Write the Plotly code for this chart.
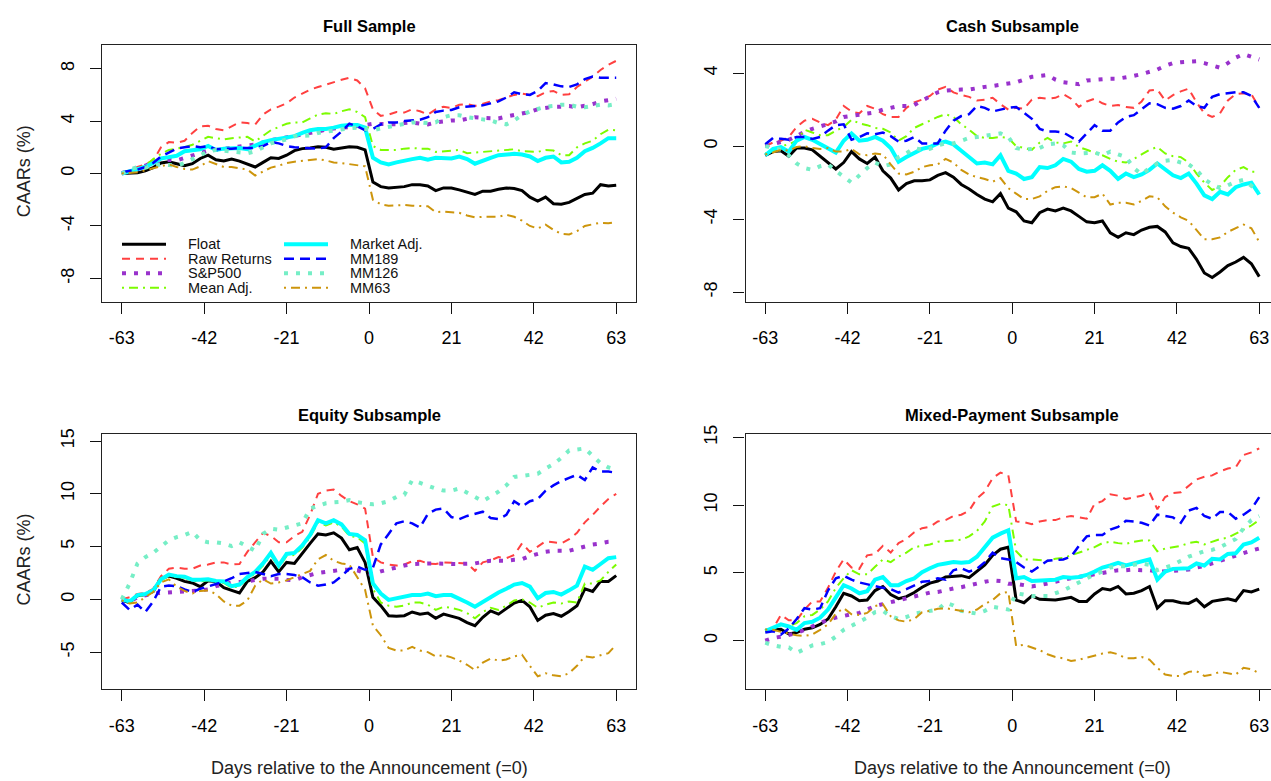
import plotly.graph_objects as go

W, H = 1271, 781
FONT = "Liberation Sans, Arial, Helvetica, sans-serif"

# ---------------- data ----------------
days = list(range(-63, 64, 2))
series_names = ["Float", "Raw Returns", "S&P500", "Mean Adj.",
                "Market Adj.", "MM189", "MM126", "MM63"]
panel_titles = ["Full Sample", "Cash Subsample", "Equity Subsample", "Mixed-Payment Subsample"]
x_ticks = [-63, -42, -21, 0, 21, 42, 63]
full_y_ticks = [-8, -4, 0, 4, 8]
cash_y_ticks = [-8, -4, 0, 4]
equity_y_ticks = [-5, 0, 5, 10, 15]
mixed_y_ticks = [0, 5, 10, 15]
x_title = "Days relative to the Announcement (=0)"
y_title = "CAARs (%)"

# Full sample
full_float = [0, 0.0, 0.05, 0.2, 0.45, 0.8, 0.9, 0.75,
              0.6, 0.75, 1.15, 1.4, 1.05, 0.95, 1.1, 0.95,
              0.75, 0.5, 0.85, 1.2, 1.15, 1.4, 1.75, 1.9,
              1.95, 2.05, 2.0, 1.85, 1.95, 2.05, 2.0, 1.8,
              -0.65, -1.0, -1.1, -1.05, -1.0, -0.85, -0.85, -0.95,
              -1.3, -1.1, -1.1, -1.25, -1.45, -1.6, -1.35, -1.35,
              -1.2, -1.1, -1.15, -1.3, -1.8, -2.1, -1.8, -2.3,
              -2.35, -2.2, -1.9, -1.6, -1.5, -0.85, -0.95, -0.9]
full_raw = [0, 0.2, 0.5, 0.7, 1.0, 2.0, 2.4, 2.35,
            2.5, 3.1, 3.6, 3.65, 3.4, 3.3, 3.6, 3.9,
            3.85, 3.75, 4.5, 4.9, 5.1, 5.35, 5.8, 6.1,
            6.4, 6.6, 6.8, 6.95, 7.15, 7.3, 7.1, 6.5,
            4.9, 4.4, 4.5, 4.7, 4.65, 4.9, 4.75, 4.5,
            4.9, 5.1, 5.0, 5.25, 5.3, 5.15, 5.35, 5.5,
            5.6, 5.8, 6.0, 6.1, 6.0, 5.9, 6.2, 6.3,
            6.0, 6.05, 6.6, 7.0, 7.4, 7.9, 8.3, 8.6]
full_sp500 = [0, 0.2, 0.4, 0.6, 0.9, 1.0, 1.05, 1.0,
              1.2, 1.4, 1.6, 1.75, 1.8, 1.9, 2.0, 2.1,
              2.15, 2.2, 2.4, 2.55, 2.65, 2.75, 2.85, 2.95,
              3.1, 3.2, 3.35, 3.45, 3.5, 3.55, 3.6, 3.7,
              3.8, 3.8, 3.8, 3.75, 3.85, 3.9, 3.8, 3.75,
              3.9, 4.0, 4.05, 4.05, 4.2, 4.3, 4.25, 4.2,
              4.2, 4.35, 4.45, 4.6, 4.7, 4.9, 5.0, 5.1,
              5.1, 5.15, 5.05, 5.15, 5.3, 5.5, 5.6, 5.7]
full_mean = [0, 0.15, 0.4, 0.6, 1.1, 1.5, 1.8, 1.9,
             2.0, 2.2, 2.5, 2.8, 2.7, 2.6, 2.7, 2.75,
             2.8, 2.45, 2.9, 3.3, 3.55, 3.8, 3.9, 3.9,
             4.2, 4.5, 4.6, 4.55, 4.75, 4.9, 4.7, 4.3,
             2.1, 1.8, 1.8, 1.8, 1.9, 1.95, 1.9, 1.9,
             1.65, 1.7, 1.75, 1.8, 1.55, 1.6, 1.7, 1.75,
             1.8, 1.85, 1.85, 1.7, 1.65, 1.65, 1.8, 1.75,
             1.4, 1.4, 2.0, 2.3, 2.5, 3.0, 3.35, 3.3]
full_market = [0, 0.15, 0.3, 0.5, 0.8, 1.15, 1.25, 1.35,
               1.7, 1.8, 1.85, 2.1, 1.8, 1.9, 1.95, 1.95,
               1.85, 2.15, 2.4, 2.55, 2.65, 2.7, 2.85, 3.1,
               3.3, 3.4, 3.4, 3.5, 3.65, 3.7, 3.7, 3.5,
               1.2, 0.85, 0.7, 0.85, 1.0, 1.1, 1.2, 1.05,
               1.2, 1.2, 1.15, 1.3, 1.1, 0.75, 1.0, 1.2,
               1.4, 1.45, 1.5, 1.45, 1.3, 0.95, 1.2, 1.3,
               0.85, 0.9, 1.2, 1.7, 1.95, 2.3, 2.7, 2.7]
full_mm189 = [0.1, 0.2, 0.3, 0.5, 0.8, 1.3, 1.6, 1.9,
              2.0, 2.1, 2.0, 2.1, 1.85, 1.85, 1.9, 1.95,
              1.95, 1.95, 2.1, 2.4, 2.3, 2.1, 2.0, 1.95,
              1.9, 1.9, 2.0, 2.7, 3.2, 3.8, 3.6, 3.3,
              3.4, 3.75, 3.9, 3.9, 4.0, 4.05, 4.1, 4.3,
              4.7, 4.8, 4.85, 5.05, 5.1, 5.15, 5.2, 5.35,
              5.5, 5.8, 6.2, 6.05, 6.0, 6.3, 6.9, 6.8,
              6.65, 6.6, 6.8, 7.2, 7.4, 7.3, 7.3, 7.3]
full_mm126 = [0, 0.3, 0.5, 0.45, 0.6, 0.7, 0.65, 0.6,
              0.8, 1.1, 1.4, 1.7, 1.8, 1.75, 1.7, 1.6,
              1.55, 1.7, 2.0, 2.3, 2.45, 2.6, 2.85, 2.9,
              2.9, 3.1, 3.2, 3.3, 3.35, 3.45, 3.5, 3.4,
              3.3, 3.45, 3.55, 3.65, 3.75, 3.9, 3.9, 3.85,
              3.9, 4.3, 4.45, 4.45, 4.3, 4.2, 4.15, 4.05,
              3.85, 3.75, 4.05, 4.45, 4.75, 4.95, 5.1, 5.15,
              5.25, 5.25, 5.1, 5.05, 5.15, 5.25, 5.2, 5.3]
full_mm63 = [0, 0.05, 0.1, 0.25, 0.4, 0.6, 0.7, 0.5,
             0.35, 0.3, 0.55, 0.95, 0.7, 0.5, 0.5, 0.4,
             0.3, -0.15, 0.15, 0.45, 0.6, 0.8, 0.9, 0.95,
             1.05, 1.1, 1.0, 0.85, 0.8, 0.7, 0.65, 0.55,
             -2.0, -2.35, -2.45, -2.4, -2.4, -2.45, -2.45, -2.5,
             -2.95, -2.9, -2.95, -3.0, -3.2, -3.35, -3.3, -3.3,
             -3.3, -3.15, -3.3, -3.6, -4.0, -4.2, -3.9, -4.3,
             -4.6, -4.65, -4.4, -4.0, -3.9, -3.75, -3.8, -3.7]

# Cash subsample
cash_float = [-0.5, -0.3, -0.25, -0.55, -0.1, -0.1, -0.2, -0.55,
              -0.9, -1.25, -0.9, -0.3, -0.7, -0.95, -0.6, -1.35,
              -1.75, -2.4, -2.05, -1.9, -1.9, -1.85, -1.6, -1.45,
              -1.7, -2.1, -2.35, -2.65, -2.9, -3.05, -2.6, -3.4,
              -3.6, -4.1, -4.2, -3.65, -3.45, -3.55, -3.4, -3.55,
              -3.85, -4.15, -4.2, -4.1, -4.75, -5.0, -4.75, -4.85,
              -4.6, -4.45, -4.4, -4.7, -5.3, -5.5, -5.6, -6.2,
              -6.95, -7.2, -6.9, -6.55, -6.35, -6.1, -6.45, -7.15]
cash_raw = [0, 0.2, 0.3, 0.5, 1.05, 1.4, 1.5, 1.3,
            1.15, 1.45, 2.2, 1.9, 1.8, 2.2, 2.05, 1.75,
            1.6, 1.6, 2.1, 2.4, 2.55, 2.75, 3.1, 3.25,
            2.95, 2.8, 2.7, 2.5, 2.55, 2.65, 2.3, 2.0,
            2.1, 2.05, 2.55, 2.65, 2.6, 2.65, 2.85, 2.6,
            2.15, 2.45, 2.6, 2.35, 2.2, 2.25, 2.15, 2.1,
            2.45, 3.05, 3.1, 2.5, 2.8, 3.0, 3.15, 2.4,
            1.8, 1.6, 1.8, 2.5, 2.85, 2.9, 2.85, 2.1]
cash_sp500 = [0.0, 0.1, 0.2, 0.35, 0.55, 0.8, 0.95, 1.1,
              1.2, 1.35, 1.6, 1.65, 1.75, 1.8, 1.85, 2.0,
              2.1, 2.2, 2.2, 2.25, 2.5, 2.75, 2.95, 3.05,
              3.1, 3.1, 3.1, 3.2, 3.25, 3.3, 3.35, 3.4,
              3.5, 3.65, 3.8, 3.85, 3.9, 3.65, 3.5, 3.45,
              3.4, 3.6, 3.65, 3.7, 3.7, 3.7, 3.75, 3.85,
              3.95, 4.05, 4.2, 4.4, 4.55, 4.6, 4.6, 4.65,
              4.55, 4.4, 4.3, 4.55, 4.85, 5.05, 4.9, 4.75]
cash_mean = [-0.4, -0.3, 0.0, 0.1, 0.3, 0.9, 0.75, 0.6,
             0.6, 0.85, 1.05, 1.45, 1.25, 1.15, 1.0, 0.95,
             0.75, 0.3, 0.55, 1.0, 1.2, 1.4, 1.6, 1.75,
             1.6, 1.2, 0.9, 0.55, 0.45, 0.45, 0.5, 0.45,
             0.0, -0.1, -0.2, 0.2, 0.45, 0.2, 0.15, 0.25,
             -0.05, -0.2, -0.35, -0.5, -0.7, -0.85, -0.9, -0.7,
             -0.45, -0.2, -0.05, -0.4, -0.55, -0.6, -0.9, -1.5,
             -2.0, -2.4, -2.2, -1.7, -1.3, -1.15, -1.4, -1.4]
cash_market = [-0.5, -0.15, -0.05, -0.3, 0.3, 0.5, 0.35, 0.1,
               -0.15, -0.35, 0.3, 0.7, 0.3, 0.35, 0.5, 0.3,
               -0.1, -0.85, -0.6, -0.35, -0.15, -0.05, 0.15, 0.25,
               0.1, -0.25, -0.6, -0.95, -0.9, -1.0, -0.5, -1.35,
               -1.5, -1.8, -1.7, -1.15, -1.2, -1.05, -0.7, -0.85,
               -1.25, -1.4, -1.35, -1.05, -1.35, -1.8, -1.5, -1.7,
               -1.55, -1.3, -0.95, -1.25, -1.6, -1.75, -1.5, -2.05,
               -2.7, -2.9, -2.5, -2.65, -2.25, -2.1, -2.0, -2.65]
cash_mm189 = [0.1, 0.45, 0.4, 0.35, 0.5, 0.5, 0.4, 0.5,
              0.85, 1.15, 1.2, 0.35, 0.5, 0.7, 0.65, 0.75,
              0.55, 0.25, 0.3, 0.5, 0.15, 0.15, 0.15, 0.85,
              1.4, 1.65, 1.75, 2.2, 2.1, 1.9, 2.0, 2.1,
              2.15, 1.8, 1.5, 0.95, 0.8, 0.8, 0.75, 0.5,
              0.25, 0.7, 1.15, 0.85, 0.85, 1.3, 1.6, 1.7,
              2.0, 2.35, 2.3, 2.1, 2.05, 2.2, 2.5, 2.2,
              2.1, 2.7, 2.85, 2.9, 2.95, 2.95, 2.75, 2.1]
cash_mm126 = [0.0, -0.1, -0.2, -0.5, -0.95, -1.2, -1.3, -1.1,
              -1.0, -1.35, -1.7, -2.0, -1.6, -1.2, -0.9, -1.1,
              -1.0, -0.6, -0.4, -0.1, -0.2, -0.15, 0.05, 0.15,
              0.15, 0.3, 0.45, 0.5, 0.55, 0.6, 0.7, 0.5,
              -0.1, -0.2, -0.15, -0.1, 0.1, 0.15, 0.05, -0.35,
              -0.4, -0.35, -0.35, -0.5, -0.3, -0.45, -0.6, -1.2,
              -1.55, -1.2, -0.95, -0.8, -0.75, -0.9, -1.0, -1.3,
              -1.8, -2.1, -2.3, -2.15, -1.95, -1.85, -2.15, -2.5]
cash_mm63 = [-0.45, -0.35, -0.2, -0.25, -0.05, 0.0, -0.1, -0.15,
             -0.1, -0.3, -0.3, -0.15, -0.45, -0.5, -0.4, -0.45,
             -1.0, -1.5, -1.55, -1.4, -1.15, -1.05, -1.0, -0.7,
             -0.9, -1.3, -1.55, -1.7, -1.8, -1.95, -1.75, -2.3,
             -2.6, -2.9, -2.9, -2.75, -2.45, -2.25, -2.2, -2.3,
             -2.55, -2.8, -2.8, -2.6, -3.2, -3.1, -3.1, -3.2,
             -3.0, -2.75, -2.8, -3.3, -3.65, -3.9, -4.1, -4.6,
             -5.1, -5.1, -5.0, -4.7, -4.5, -4.3, -4.5, -5.25]

# Equity subsample
equity_float = [-0.1, -0.3, 0.35, 0.45, 0.75, 2.0, 2.2, 2.0,
                1.7, 1.55, 1.2, 1.75, 1.7, 1.1, 0.85, 0.6,
                1.7, 2.05, 2.6, 3.6, 2.6, 3.5, 3.4, 4.4,
                5.3, 6.2, 6.1, 6.3, 5.8, 4.7, 4.9, 3.5,
                0.2, -0.6, -1.55, -1.6, -1.55, -1.2, -1.4, -1.3,
                -1.8, -1.4, -1.6, -1.8, -2.2, -2.5, -1.7, -1.1,
                -1.4, -0.9, -0.35, -0.1, -0.7, -2.0, -1.5, -1.35,
                -1.6, -1.15, -0.6, 1.0, 0.75, 1.7, 1.7, 2.25]
equity_raw = [0, 0.2, 0.5, 0.6, 1.0, 2.2, 2.9, 3.0,
              2.9, 2.9, 3.2, 3.3, 3.5, 3.5, 3.3, 3.35,
              4.5, 5.4, 6.3, 6.0, 5.4, 5.4, 6.0, 6.4,
              8.0, 10.0, 10.3, 10.4, 9.8, 9.3, 9.0, 8.6,
              4.0, 3.5, 3.3, 3.2, 3.3, 3.6, 3.65, 3.4,
              3.35, 3.5, 3.45, 3.4, 3.4, 2.7, 3.5, 3.7,
              4.0, 3.9, 4.2, 5.3, 4.5, 5.0, 5.5, 5.4,
              5.3, 5.7, 6.3, 7.3, 8.0, 8.8, 9.5, 10.0]
equity_sp500 = [0, -0.2, 0.2, 0.4, 0.55, 0.6, 0.65, 0.7,
                0.7, 0.75, 0.85, 0.95, 1.25, 1.4, 1.6, 1.65,
                1.7, 1.85, 1.95, 1.95, 1.95, 1.85, 1.8, 2.1,
                2.3, 2.5, 2.6, 2.7, 2.8, 2.8, 2.75, 2.5,
                2.4, 2.65, 2.85, 3.0, 3.2, 3.35, 3.4, 3.4,
                3.4, 3.35, 3.35, 3.35, 3.4, 3.4, 3.55, 3.65,
                3.65, 3.65, 3.75, 3.8, 4.1, 4.3, 4.5, 4.6,
                4.6, 4.6, 4.8, 5.05, 5.2, 5.3, 5.45, 5.5]
equity_mean = [-0.1, -0.3, 0.3, 0.4, 0.75, 1.8, 2.25, 2.1,
               2.05, 1.75, 1.7, 1.8, 1.65, 1.55, 1.1, 1.25,
               1.95, 2.45, 3.2, 4.2, 3.0, 4.1, 4.2, 4.9,
               5.9, 7.3, 7.0, 7.3, 6.9, 6.0, 5.9, 5.3,
               1.0, -0.3, -0.6, -0.7, -0.6, -0.3, -0.3, -0.5,
               -1.0, -0.7, -0.8, -1.0, -1.3, -1.8, -1.2, -0.8,
               -1.0, -0.6, -0.1, 0.0, -0.3, -0.8, -0.5, -0.3,
               -0.4, -0.2, -0.3, 1.5, 1.5, 1.8, 2.6, 3.3]
equity_market = [0, -0.2, 0.4, 0.5, 0.85, 1.9, 2.35, 2.2,
                 2.15, 1.85, 1.85, 1.9, 1.75, 1.7, 1.25, 1.4,
                 2.1, 2.6, 3.4, 4.4, 3.2, 4.3, 4.4, 5.1,
                 6.1, 7.5, 7.2, 7.5, 7.1, 6.2, 6.1, 5.6,
                 1.5, 0.55, -0.05, 0.1, 0.3, 0.4, 0.4, 0.55,
                 0.3, 0.4, 0.4, 0.1, -0.3, -0.7, -0.25, 0.3,
                 0.65, 1.0, 1.4, 1.55, 1.2, 0.1, 0.6, 0.7,
                 0.45, 0.85, 1.3, 3.1, 2.8, 3.35, 3.9, 4.0]
equity_mm189 = [-0.3, -1.0, -0.5, -1.2, -0.2, 1.2, 1.3, 1.25,
                0.95, 0.7, 1.0, 1.2, 1.45, 1.7, 2.0, 2.4,
                2.5, 2.6, 2.4, 2.2, 2.4, 2.4, 2.3, 2.1,
                1.6, 1.3, 1.4, 1.6, 2.2, 2.9, 3.1, 2.8,
                3.0, 5.2, 6.2, 7.2, 7.4, 7.2, 6.8, 8.1,
                8.5, 8.6, 7.8, 7.6, 7.9, 8.1, 8.3, 7.7,
                7.6, 8.0, 9.3, 8.8, 9.3, 9.5, 10.3, 10.8,
                11.2, 11.5, 11.8, 11.3, 12.5, 12.1, 12.1, 12.0]
equity_mm126 = [0, 1.5, 3.4, 4.0, 4.4, 5.05, 5.6, 5.9,
                6.1, 6.4, 5.6, 5.4, 5.4, 5.3, 5.05, 5.4,
                5.0, 4.6, 6.2, 6.7, 6.6, 6.8, 7.0, 7.2,
                8.6, 8.9, 9.1, 9.2, 9.25, 9.4, 9.2, 9.1,
                9.0, 9.1, 9.3, 9.7, 9.9, 11.3, 11.0, 10.8,
                10.5, 10.3, 10.3, 10.5, 10.1, 9.6, 9.3, 9.75,
                10.2, 10.8, 11.6, 11.7, 11.8, 11.9, 12.4, 12.8,
                13.4, 14.1, 14.2, 14.3, 13.6, 12.9, 12.5, 12.3]
equity_mm63 = [-0.1, -0.4, -0.3, 0.2, 0.7, 1.6, 1.9, 1.2,
               0.8, 0.55, 0.8, 0.85, 0.5, -0.2, -0.6, -0.6,
               -0.1, 1.3, 1.9, 1.5, 1.6, 1.8, 2.1, 2.4,
               2.7, 3.8, 4.2, 3.65, 3.4, 3.3, 2.1, 0.9,
               -2.5, -3.4, -4.6, -4.85, -4.85, -4.5, -4.85, -5.0,
               -5.4, -5.3, -5.5, -5.8, -6.2, -6.7, -6.0, -5.6,
               -5.8, -5.7, -5.4, -5.25, -6.3, -7.3, -7.0, -7.2,
               -7.3, -7.0, -6.3, -5.4, -5.5, -5.3, -5.1, -4.3]

# Mixed-payment subsample
mixed_float = [0.75, 0.8, 0.85, 0.5, 0.6, 0.85, 0.95, 1.2,
               1.6, 2.5, 3.5, 3.3, 2.95, 3.0, 3.7, 4.0,
               3.4, 3.1, 3.25, 3.55, 3.95, 4.25, 4.4, 4.7,
               4.75, 4.8, 4.65, 5.1, 5.6, 6.3, 6.75, 6.9,
               3.0, 2.8, 3.3, 3.05, 3.05, 3.0, 3.1, 3.2,
               2.9, 2.9, 3.45, 3.85, 3.75, 4.0, 3.45, 3.5,
               3.7, 4.0, 2.4, 2.95, 2.95, 2.8, 2.75, 3.05,
               2.5, 2.9, 3.0, 3.1, 2.95, 3.7, 3.6, 3.8]
mixed_raw = [0.8, 0.9, 1.9, 1.5, 1.5, 2.3, 2.9, 2.9,
             3.9, 5.1, 6.0, 5.4, 5.3, 6.3, 6.4, 7.0,
             6.5, 7.2, 7.5, 8.0, 8.3, 8.4, 8.8, 8.9,
             9.2, 9.3, 9.6, 10.5, 11.0, 12.0, 12.4, 12.2,
             8.8, 8.75, 8.6, 8.8, 8.9, 8.9, 9.1, 9.2,
             9.1, 9.0, 10.1, 10.3, 10.8, 10.7, 10.45, 10.6,
             10.7, 10.95, 9.7, 10.6, 10.9, 10.95, 11.4, 11.9,
             12.1, 12.2, 12.5, 12.7, 12.8, 13.7, 13.9, 14.2]
mixed_sp500 = [0.0, 0.2, 0.3, 0.45, 0.55, 0.8, 1.05, 1.3,
               1.55, 1.7, 1.85, 1.95, 2.05, 2.3, 2.55, 2.7,
               2.85, 3.0, 3.15, 3.3, 3.45, 3.55, 3.6, 3.75,
               3.85, 3.95, 4.1, 4.25, 4.35, 4.45, 4.4, 4.2,
               4.2, 4.1, 4.0, 4.1, 4.2, 4.35, 4.5, 4.6,
               4.7, 4.8, 4.9, 5.0, 5.1, 5.2, 5.2, 5.25,
               5.2, 5.2, 5.1, 5.1, 5.15, 5.2, 5.25, 5.4,
               5.5, 5.7, 5.9, 6.05, 6.25, 6.45, 6.65, 6.8]
mixed_mean = [0.8, 0.9, 1.2, 1.1, 1.3, 1.8, 1.9, 2.3,
              2.9, 3.9, 4.6, 5.2, 4.9, 4.9, 5.45, 6.0,
              5.8, 6.2, 6.5, 6.9, 7.0, 7.1, 7.3, 7.35,
              7.4, 7.45, 7.7, 8.1, 8.8, 9.9, 10.1, 10.0,
              6.6, 6.0, 6.0, 5.95, 5.9, 6.05, 6.1, 6.3,
              6.5, 6.7, 6.9, 7.2, 7.3, 7.2, 7.15, 7.3,
              7.4, 7.4, 6.6, 6.8, 6.9, 7.0, 7.2, 7.3,
              7.1, 7.3, 7.5, 7.6, 7.9, 8.2, 8.5, 8.9]
mixed_market = [0.7, 0.95, 1.2, 1.05, 0.8, 1.3, 1.4, 1.7,
                2.3, 3.2, 4.1, 3.85, 3.5, 3.65, 4.5, 4.7,
                4.1, 4.1, 4.4, 4.6, 5.05, 5.35, 5.6, 5.7,
                5.8, 5.75, 5.8, 6.2, 6.9, 7.6, 7.9, 8.15,
                4.6, 4.7, 4.4, 4.45, 4.5, 4.5, 4.7, 4.65,
                4.7, 4.85, 5.1, 5.4, 5.55, 5.75, 5.55, 5.7,
                5.8, 6.0, 4.5, 5.1, 5.3, 5.3, 5.35, 5.7,
                5.55, 6.05, 6.0, 6.4, 6.45, 7.1, 7.25, 7.6]
mixed_mm189 = [0.6, 0.7, 0.45, 0.9, 1.6, 2.4, 2.3, 2.4,
               3.7, 4.6, 4.8, 4.5, 4.3, 4.15, 4.0, 3.9,
               3.8, 3.55, 3.8, 4.1, 4.35, 4.4, 4.6, 4.5,
               5.2, 5.35, 5.1, 5.3, 5.8, 6.5, 6.1, 6.0,
               5.8, 5.4, 5.1, 5.5, 5.9, 5.95, 6.0, 6.2,
               7.0, 7.7, 7.8, 7.8, 8.2, 8.4, 8.85, 8.8,
               8.7, 8.5, 9.3, 9.2, 9.1, 8.7, 9.6, 9.8,
               9.2, 9.0, 9.5, 9.5, 9.0, 9.3, 9.7, 10.6]
mixed_mm126 = [-0.15, -0.35, -0.45, -0.5, -0.9, -0.6, -0.35, -0.25,
               -0.1, 0.3, 0.8, 1.1, 1.4, 1.7, 2.1, 2.2,
               1.8, 1.6, 1.75, 2.0, 2.1, 2.2, 2.3, 2.8,
               2.6, 2.2, 2.1, 2.0, 2.2, 2.5, 2.4, 2.3,
               3.5, 3.4, 3.3, 3.3, 3.3, 3.5, 3.7, 4.0,
               4.3, 4.6, 4.9, 5.1, 5.4, 5.5, 5.5, 5.6,
               5.7, 5.6, 5.2, 5.4, 5.6, 5.9, 6.2, 6.4,
               6.6, 6.7, 6.9, 7.2, 7.5, 8.3, 8.9, 9.2]
mixed_mm63 = [0.8, 0.8, 0.65, 0.5, 0.4, 0.35, 0.45, 0.8,
              1.2, 2.0, 2.4, 1.95, 1.9, 2.05, 2.55, 2.7,
              1.8, 1.5, 1.4, 1.6, 2.1, 2.2, 2.35, 2.4,
              2.3, 2.2, 2.1, 2.3, 2.7, 3.0, 3.5, 3.6,
              -0.4, -0.3, -0.5, -0.7, -1.0, -1.2, -1.3, -1.5,
              -1.4, -1.25, -1.05, -0.95, -0.85, -1.0, -1.3, -1.3,
              -1.2, -1.4, -2.0, -2.5, -2.6, -2.6, -2.3, -2.25,
              -2.6, -2.5, -2.3, -2.4, -2.5, -2.0, -2.1, -2.4]

# ---------------- styling ----------------
styles = {
    "Float":       dict(color="#000000", width=3.0, dash="solid"),
    "Raw Returns": dict(color="#FF4040", width=2.0, dash="8px,6px"),
    "S&P500":      dict(color="#9932CC", width=4.0, dash="4px,8px"),
    "Mean Adj.":   dict(color="#7CFC00", width=2.0, dash="2px,5px,9px,5px"),
    "Market Adj.": dict(color="#00FFFF", width=4.0, dash="solid"),
    "MM189":       dict(color="#0000FF", width=2.5, dash="10px,6px"),
    "MM126":       dict(color="#76EEC6", width=4.0, dash="4px,8px"),
    "MM63":        dict(color="#CD950C", width=2.0, dash="2px,5px,9px,5px"),
}

panels = [
    dict(series=[full_float, full_raw, full_sp500, full_mean, full_market, full_mm189, full_mm126, full_mm63],
         yticks=full_y_ticks, yrange=[-9.77, 9.8], box=(102, 636, 36.5, 296), xrange=[-68.04, 68.04],
         ylab=True, xlab=False, right=False),
    dict(series=[cash_float, cash_raw, cash_sp500, cash_mean, cash_market, cash_mm189, cash_mm126, cash_mm63],
         yticks=cash_y_ticks, yrange=[-8.52, 5.54], box=(745.5, 1271, 36.5, 296), xrange=[-68.04, 66.0],
         ylab=False, xlab=False, right=True),
    dict(series=[equity_float, equity_raw, equity_sp500, equity_mean, equity_market, equity_mm189, equity_mm126, equity_mm63],
         yticks=equity_y_ticks, yrange=[-8.5, 15.66], box=(102, 636, 430, 688), xrange=[-68.04, 68.04],
         ylab=True, xlab=True, right=False),
    dict(series=[mixed_float, mixed_raw, mixed_sp500, mixed_mean, mixed_market, mixed_mm189, mixed_mm126, mixed_mm63],
         yticks=mixed_y_ticks, yrange=[-3.57, 15.25], box=(745.5, 1271, 430, 688), xrange=[-68.04, 66.0],
         ylab=False, xlab=True, right=True),
]

for p in panels:
    for s in p["series"]:
        assert len(s) == len(days), len(s)

fig = go.Figure()
layout = dict(width=W, height=H, autosize=False,
              margin=dict(l=0, r=0, t=0, b=0, pad=0),
              paper_bgcolor="white", plot_bgcolor="white",
              showlegend=False, font=dict(family=FONT, color="black"))

annotations = []
shapes = []

def fx(px):
    return px / W

def fy(py):
    return 1 - py / H

axis_common = dict(showgrid=False, zeroline=False, ticks="outside", ticklen=11,
                   tickwidth=1, tickcolor="#111111", showline=True, linecolor="#222222",
                   linewidth=1.3, tickfont=dict(family=FONT, size=18, color="black"),
                   fixedrange=True, tickmode="array", ticklabelstandoff=9)

for i, p in enumerate(panels):
    sfx = "" if i == 0 else str(i + 1)
    x0, x1, top, bottom = p["box"]
    for name, vals in zip(series_names, p["series"]):
        st = styles[name]
        fig.add_trace(go.Scatter(
            x=days, y=vals, mode="lines", name=name,
            line=dict(color=st["color"], width=st["width"], dash=st["dash"]),
            xaxis="x" + sfx, yaxis="y" + sfx, hoverinfo="skip"))
    layout["xaxis" + sfx] = dict(domain=[fx(x0), fx(x1)], range=p["xrange"],
                                 tickvals=x_ticks, ticktext=[str(t) for t in x_ticks],
                                 anchor="y" + sfx, mirror=True, **axis_common)
    layout["yaxis" + sfx] = dict(domain=[fy(bottom), fy(top)], range=p["yrange"],
                                 tickvals=p["yticks"], ticktext=[str(t) for t in p["yticks"]],
                                 anchor="x" + sfx, mirror=not p["right"], tickangle=-90,
                                 **axis_common)
    # panel title: centred on day 0
    cx = x0 + (0 - p["xrange"][0]) / (p["xrange"][1] - p["xrange"][0]) * (x1 - x0)
    annotations.append(dict(text="<b>" + panel_titles[i] + "</b>", x=fx(cx), y=fy(top - 19.5),
                            xref="paper", yref="paper", xanchor="center", yanchor="middle",
                            showarrow=False, font=dict(family=FONT, size=16.5, color="black")))
    if p["xlab"]:
        annotations.append(dict(text=x_title, x=fx(cx), y=fy(768), xref="paper", yref="paper",
                                xanchor="center", yanchor="middle", showarrow=False,
                                font=dict(family=FONT, size=18, color="#222222")))
    if p["ylab"]:
        annotations.append(dict(text=y_title, x=fx(24), y=fy((top + bottom) / 2 - 2),
                                xref="paper", yref="paper", xanchor="center", yanchor="middle",
                                textangle=-90, showarrow=False,
                                font=dict(family=FONT, size=18, color="#222222")))

# legend (inside the Full Sample panel, two columns)
legend_rows = [238, 252.7, 267.3, 282]
legend_cols = [(122, 166, 186), (284, 328, 348)]
for k, name in enumerate(series_names):
    col = legend_cols[k // 4]
    row = legend_rows[k % 4]
    st = styles[name]
    shapes.append(dict(type="line", xref="paper", yref="paper",
                       x0=fx(col[0]), x1=fx(col[1]), y0=fy(row), y1=fy(row),
                       line=dict(color=st["color"], width=st["width"], dash=st["dash"])))
    annotations.append(dict(text=name, x=fx(col[2]), y=fy(row), xref="paper", yref="paper",
                            xanchor="left", yanchor="middle", showarrow=False,
                            font=dict(family=FONT, size=14.5, color="#111111")))

layout["annotations"] = annotations
layout["shapes"] = shapes
fig.update_layout(**layout)

fig.write_html("out.html", config={"displayModeBar": False},
               post_script="document.body.style.margin='0';document.body.style.padding='0';"
                           "document.body.style.overflow='hidden';")
